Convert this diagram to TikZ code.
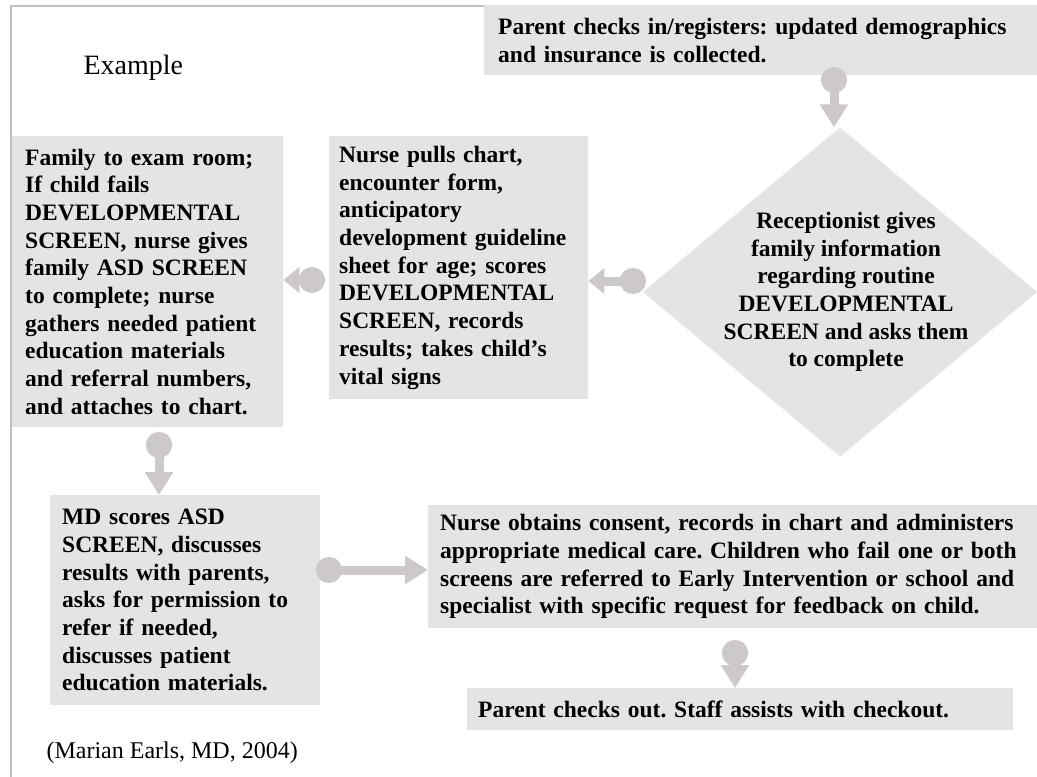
\documentclass[tikz,border=0pt]{standalone}
\usepackage{fontspec}
\setmainfont{Liberation Serif}
\usetikzlibrary{arrows.meta,shapes.geometric,calc}
\definecolor{boxfill}{RGB}{230,227,229}
\definecolor{connc}{RGB}{205,200,203}
\definecolor{framec}{RGB}{195,190,200}
\frenchspacing
\begin{document}
\begin{tikzpicture}[x=1pt,y=-1pt,
  box/.style={fill=boxfill, draw=none, inner ysep=0pt, align=left, anchor=north west,
    font=\fontsize{23.5}{27.7}\selectfont\bfseries},
  conn/.style={draw=connc, line width=9pt,
    arrows={Circle[length=26pt]-Triangle[length=23pt,width=27pt]}},
  shortconn/.style={draw=connc, line width=9pt,
    arrows={Circle[length=26pt]-Triangle[length=16pt,width=25pt]}},
  framestyle/.style={draw=framec, line width=2pt},
]
\useasboundingbox (0,0) rectangle (1037,777);
\fill[white] (0,0) rectangle (1037,777);
% frame
\coordinate (frb) at (11,779);
\coordinate (frt) at (11,6);
\coordinate (frr) at (486,6);
\draw[framestyle] (frb) -- (frt) -- (frr);

\node[font=\fontsize{28}{32}\selectfont, anchor=west] (ex) at (80,68) {Example};

\node[box, inner xsep=14pt, text width=525pt, minimum height=70pt] (top) at (484,5)
  {Parent checks in/registers: updated demographics\\and insurance is collected.};

\node[diamond, fill=boxfill, draw=none, inner sep=0pt, minimum width=394pt, minimum height=329pt] (recep) at (840,292) {};
\node[font=\fontsize{23.5}{27.7}\selectfont\bfseries, align=center] (receptext) at (846,292)
  {Receptionist gives\\family information\\regarding routine\\DEVELOPMENTAL\\SCREEN and asks them\\to complete};

\node[box, inner xsep=10pt, text width=239pt, minimum height=263pt] (nurse) at (329,136)
  {Nurse pulls chart,\\encounter form,\\anticipatory\\development guideline\\sheet for age; scores\\DEVELOPMENTAL\\SCREEN, records\\results; takes child’s\\vital signs};

\node[box, inner xsep=13pt, text width=245pt, minimum height=291pt] (fam) at (12,136)
  {Family to exam room;\\If child fails\\DEVELOPMENTAL\\SCREEN, nurse gives\\family ASD SCREEN\\to complete; nurse\\gathers needed patient\\education materials\\and referral numbers,\\and attaches to chart.};

\node[box, inner xsep=12pt, text width=246pt, minimum height=210pt] (md) at (50,495)
  {MD scores ASD\\SCREEN, discusses\\results with parents,\\asks for permission to\\refer if needed,\\discusses patient\\education materials.};

\node[box, inner xsep=12pt, text width=585pt, minimum height=123pt] (obt) at (428,505)
  {Nurse obtains consent, records in chart and administers\\appropriate medical care. Children who fail one or both\\screens are referred to Early Intervention or school and\\specialist with specific request for feedback on child.};

\node[box, inner xsep=11pt, text width=524pt, minimum height=42pt] (out) at (467,688)
  {Parent checks out. Staff assists with checkout.};

\node[font=\fontsize{24}{28}\selectfont, anchor=west] (cite) at (43,753) {(Marian Earls, MD, 2004)};

% connectors
\coordinate (s1) at (834,67);
\draw[conn] (s1) -- (s1 |- recep.north);
\coordinate (s2) at (646,281);
\draw[shortconn] (s2) -- (s2 -| nurse.east);
\coordinate (s3) at (325,280);
\draw[shortconn] (s3) -- (s3 -| fam.east);
\coordinate (s4) at (159,432);
\draw[conn] (s4) -- (s4 |- md.north);
\coordinate (s5) at (316,570);
\draw[conn] (s5) -- (s5 -| obt.west);
\coordinate (s6) at (735,640);
\draw[conn] (s6) -- (s6 |- out.north);
\end{tikzpicture}
\end{document}
